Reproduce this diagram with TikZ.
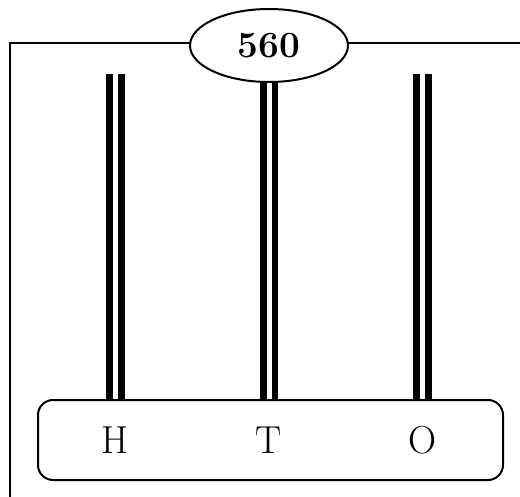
\documentclass[tikz,border=0pt]{standalone}
\usetikzlibrary{shapes.geometric}
\begin{document}
\begin{tikzpicture}[x=1pt,y=-1pt,
  frame/.style={line width=1.6pt},
  titlebox/.style={ellipse,draw,line width=2pt,fill=white,minimum width=158pt,minimum height=73pt,inner sep=0pt,font=\fontsize{37}{40}\selectfont\bfseries},
  basebox/.style={rectangle,rounded corners=15pt,draw,line width=2pt,minimum width=465pt,minimum height=80pt,inner sep=0pt},
  letter/.style={font=\fontsize{39}{42}\selectfont,inner sep=0pt},
  rod/.style={double,line width=6.8pt,double distance=5pt}]
\useasboundingbox (0,0) rectangle (520,497);
% frame
\coordinate (fl) at (10,497);
\coordinate (ftl) at (10,43);
\coordinate (ftr) at (520,43);
\draw[frame] (fl) -- (ftl) -- (ftr);
% base
\node[basebox] (base) at (270.5,440) {};
\node[letter] (H) at (115.5,440) {H};
\node[letter] (T) at (269,440) {T};
\node[letter] (O) at (422.5,440) {O};
% rods
\coordinate (r1) at (115.5,74);
\coordinate (r2) at (269,60);
\coordinate (r3) at (422.5,74);
\draw[rod] (r1) -- (r1 |- base.north);
\draw[rod] (r2) -- (r2 |- base.north);
\draw[rod] (r3) -- (r3 |- base.north);
\node[titlebox] (title) at (269,45.5) {560};
\end{tikzpicture}
\end{document}
